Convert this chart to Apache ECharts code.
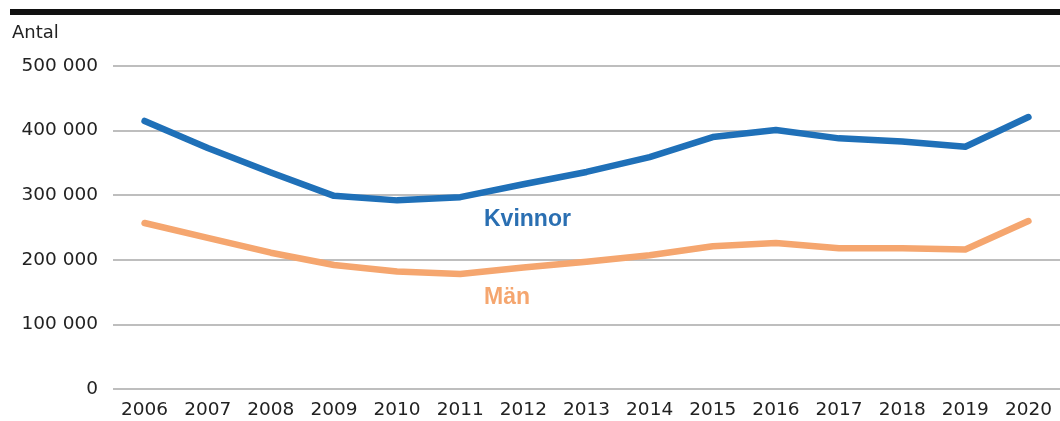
<!DOCTYPE html>
<html>
<head>
<meta charset="utf-8">
<script src="https://cdn.jsdelivr.net/npm/echarts@6/dist/echarts.min.js"></script>
<style>
  html, body { margin: 0; padding: 0; background: #fff; }
  #chart { width: 1060px; height: 421px; }
</style>
</head>
<body>
<div id="chart"></div>
<script>
const years = ["2006", "2007", "2008", "2009", "2010", "2011", "2012", "2013",
  "2014", "2015", "2016", "2017", "2018", "2019", "2020"];
const kvinnor = [415000, 373000, 335000, 299000, 292000, 297000, 317000, 336000,
  359000, 390000, 401000, 388000, 383000, 375000, 421000];
const man = [257000, 234000, 211000, 192000, 182000, 178000, 188000, 197000,
  207000, 221000, 226000, 218000, 218000, 216000, 260000];

const chart = echarts.init(document.getElementById("chart"));
const font = "DejaVu Sans, sans-serif";
const labelFont = "Liberation Sans, Arial, sans-serif";

chart.setOption({
  animation: false,
  grid: { left: 113, top: 66, width: 950, height: 323 },
  xAxis: {
    type: "category",
    data: years,
    boundaryGap: true,
    axisLine: { show: false },
    axisTick: { show: false },
    axisLabel: { color: "#222", fontSize: 18.5, fontFamily: font, margin: 12 }
  },
  yAxis: {
    type: "value",
    min: 0,
    max: 500000,
    interval: 100000,
    axisLine: { show: false },
    axisTick: { show: false },
    splitLine: { lineStyle: { color: "#a8a8a8", width: 1.5 } },
    axisLabel: {
      color: "#222", fontSize: 18.5, fontFamily: font, margin: 15,
      formatter: (v) => v === 0 ? "0" : String(v).replace(/\B(?=(\d{3})+(?!\d))/g, " ")
    }
  },
  series: [
    {
      name: "Kvinnor",
      type: "line",
      data: kvinnor,
      symbol: "none",
      lineStyle: { color: "#1f70b8", width: 6.5, cap: "round", join: "round" }
    },
    {
      name: "Män",
      type: "line",
      data: man,
      symbol: "none",
      lineStyle: { color: "#f5a66f", width: 6.5, cap: "round", join: "round" }
    }
  ],
  graphic: [
    { type: "rect", shape: { x: 10, y: 9, width: 1050, height: 6 }, style: { fill: "#111" } },
    { type: "text", left: 12, top: 24, style: { text: "Antal", fill: "#222", fontSize: 18, fontFamily: font } },
    { type: "text", left: 484, top: 208, style: { text: "Kvinnor", fill: "#2a6fb2", fontSize: 23, fontWeight: "bold", fontFamily: labelFont } },
    { type: "text", left: 484, top: 286, style: { text: "Män", fill: "#f5a66f", fontSize: 23, fontWeight: "bold", fontFamily: labelFont } }
  ]
});
</script>
</body>
</html>
